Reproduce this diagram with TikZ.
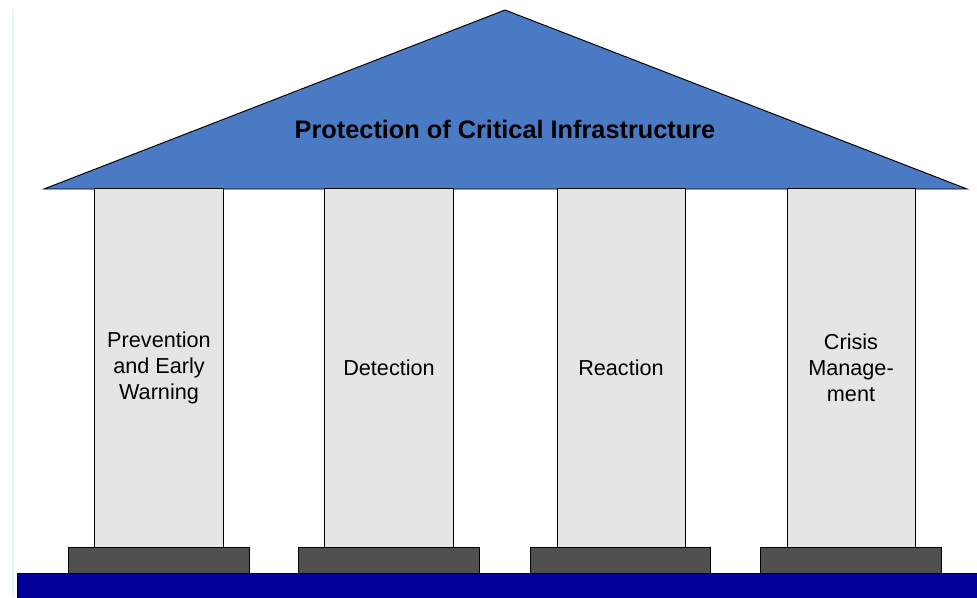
\documentclass[tikz,border=0pt]{standalone}
\usepackage{fontspec}
\setmainfont{Liberation Sans}
\usepackage{xcolor}
\usepackage{tikz}
\usetikzlibrary{positioning}

\definecolor{roofblue}{RGB}{74,122,196}
\definecolor{pillargray}{RGB}{229,229,229}
\definecolor{basegray}{RGB}{80,80,80}
\definecolor{floorblue}{RGB}{0,0,153}
\definecolor{edgeblue}{RGB}{232,243,252}

\begin{document}
\begin{tikzpicture}[x=0.025cm, y=-0.025cm, line width=0.7pt,
  pillar/.style={draw, fill=pillargray, minimum width=3.2cm, minimum height=8.95cm,
    inner sep=0pt, align=center, font=\fontsize{15.4}{18.5}\selectfont},
  plinth/.style={draw, fill=basegray, minimum width=4.5cm, minimum height=0.65cm, inner sep=0pt}]

\useasboundingbox (0,0) rectangle (977,597);

% 
\draw[edgeblue, line width=1.2pt] (13,9) -- (13,597);

% 
\draw[fill=roofblue, line join=miter] (44,189) -- (505,10) -- (967,189) -- cycle;
\node[font=\bfseries\fontsize{18}{21}\selectfont] (title) at (505,129) {Protection of Critical Infrastructure};

% 
\node[pillar] (prev) at (159,368) {Prevention\\and Early\\Warning};
\node[pillar] (det) at (389,368) {Detection};
\node[pillar] (react) at (621,368) {Reaction};
\node[pillar] (crisis) at (851,368) {Crisis\\Manage-\\ment};

% 
\node[plinth] (b1) at (159,560) {};
\node[plinth] (b2) at (389,560) {};
\node[plinth] (b3) at (620.5,560) {};
\node[plinth] (b4) at (851,560) {};

% 
\draw[fill=floorblue] (17,573) rectangle (985,602);

\end{tikzpicture}
\end{document}
